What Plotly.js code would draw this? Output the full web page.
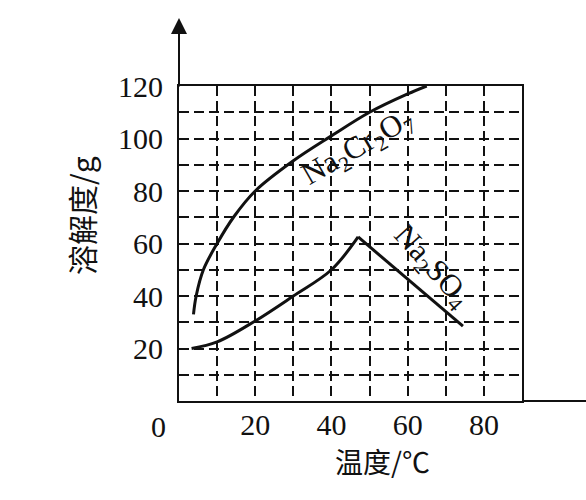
<!DOCTYPE html>
<html>
<head>
<meta charset="utf-8">
<script src="https://cdn.plot.ly/plotly-3.0.1.min.js"></script>
<style>html,body{margin:0;padding:0;background:#fff;}#chart{width:586px;height:500px;}</style>
</head>
<body>
<div id="chart"></div>
<script>
// Data
var crTemp = [3.8, 4.5, 6.4, 10, 14.3, 20, 30, 40, 50, 60, 65];
var crSol  = [33, 40, 50, 60, 70, 80, 91.5, 101, 110, 117, 120];
var so4RiseTemp = [3.3, 10, 20, 30, 40, 47];
var so4RiseSol  = [20, 22.5, 30.5, 40, 50, 62.5];
var so4FallTemp = [47, 74.5];
var so4FallSol  = [62.5, 28.5];

var xTickVals = [10, 20, 30, 40, 50, 60, 70, 80];
var xTickText = ['', '20', '', '40', '', '60', '', '80'];
var yTickVals = [10, 20, 30, 40, 50, 60, 70, 80, 90, 100, 110, 120];
var yTickText = ['', '20', '', '40', '', '60', '', '80', '', '100', '', '120'];

var crLabel = 'Na<sub>2</sub>Cr<sub>2</sub>O<sub>7</sub>';
var so4Label = 'Na<sub>2</sub>SO<sub>4</sub>';
var xTitle = '温度/℃';
var yTitle = '溶解度/g';

var lineStyle = {color: '#111', width: 3};
var traces = [
  {x: crTemp, y: crSol, mode: 'lines', line: Object.assign({shape: 'spline', smoothing: 1}, lineStyle), name: 'Na2Cr2O7', hoverinfo: 'skip'},
  {x: so4RiseTemp, y: so4RiseSol, mode: 'lines', line: Object.assign({shape: 'spline', smoothing: 1}, lineStyle), name: 'Na2SO4', hoverinfo: 'skip'},
  {x: so4FallTemp, y: so4FallSol, mode: 'lines', line: lineStyle, name: 'Na2SO4', hoverinfo: 'skip', showlegend: false}
];

var serif = 'Liberation Serif';
var cjk = 'Noto Sans CJK SC';

var layout = {
  width: 586, height: 500,
  margin: {l: 179, r: 64, t: 86, b: 99},
  paper_bgcolor: '#fff', plot_bgcolor: '#fff',
  showlegend: false,
  xaxis: {
    range: [0, 90], tickmode: 'array', tickvals: xTickVals, ticktext: xTickText,
    showgrid: true, gridcolor: '#111', gridwidth: 2, griddash: '10px,5px',
    showline: true, linecolor: '#111', linewidth: 2, mirror: true,
    zeroline: false, ticks: '', fixedrange: true, ticklabelstandoff: -4,
    tickfont: {family: serif, size: 30, color: '#111'}
  },
  yaxis: {
    range: [0, 120], tickmode: 'array', tickvals: yTickVals, ticktext: yTickText,
    showgrid: true, gridcolor: '#111', gridwidth: 2, griddash: '10px,5px',
    showline: true, linecolor: '#111', linewidth: 2, mirror: true,
    zeroline: false, ticks: '', fixedrange: true, ticklabelstandoff: 8,
    tickfont: {family: serif, size: 30, color: '#111'}
  },
  shapes: [
    {type: 'line', xref: 'paper', yref: 'paper', x0: 1, x1: 1.19, y0: 0, y1: 0, line: {color: '#111', width: 2}}
  ],
  annotations: [
    {xref: 'paper', yref: 'paper', x: 0, y: 1.216, ax: 0, ay: 70, axref: 'pixel', ayref: 'pixel',
     text: '', showarrow: true, arrowhead: 2, arrowsize: 1.6, arrowwidth: 2, arrowcolor: '#111'},
    {xref: 'paper', yref: 'paper', x: -0.0612, y: -0.082, text: '0', showarrow: false,
     xanchor: 'center', yanchor: 'middle', font: {family: serif, size: 30, color: '#111'}},
    {xref: 'paper', yref: 'paper', x: 0.592, y: -0.19, text: xTitle, showarrow: false,
     xanchor: 'center', yanchor: 'middle', font: {family: cjk, size: 28, color: '#111'}},
    {xref: 'paper', yref: 'paper', x: -0.286, y: 0.59, text: yTitle, showarrow: false, textangle: -90,
     xanchor: 'center', yanchor: 'middle', font: {family: cjk, size: 30, color: '#111'}},
    {xref: 'x', yref: 'y', x: 47, y: 96.5, text: crLabel, showarrow: false, textangle: -30,
     font: {family: serif, size: 31, color: '#111'}},
    {xref: 'x', yref: 'y', x: 66.3, y: 51.2, text: so4Label, showarrow: false, textangle: 48,
     font: {family: serif, size: 31, color: '#111'}}
  ]
};

Plotly.newPlot('chart', traces, layout, {staticPlot: true, displayModeBar: false});
</script>
</body>
</html>
